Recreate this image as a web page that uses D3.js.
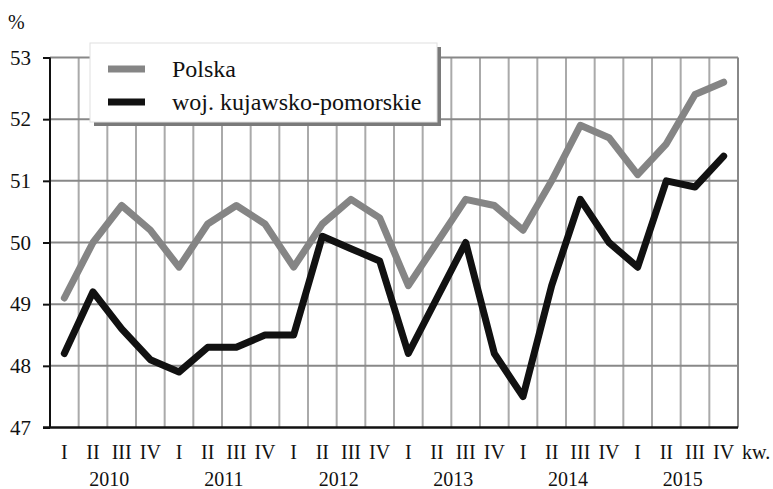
<!DOCTYPE html>
<html>
<head>
    <meta charset="utf-8">
    <script src="https://cdn.jsdelivr.net/npm/d3@7/dist/d3.min.js"></script>
    <style>
        body { margin: 0; background: #fff; }
        text { font-family: "Liberation Serif", "DejaVu Serif", serif !important; }
    </style>
</head>
<body>
    <div id="chart"></div>
    <script>
    //Data
    var years = ["2010", "2011", "2012", "2013", "2014", "2015"];
    var quarters = ["I", "II", "III", "IV"];
    var polska = [49.1, 50.0, 50.6, 50.2, 49.6, 50.3, 50.6, 50.3, 49.6, 50.3, 50.7, 50.4,
                  49.3, 50.0, 50.7, 50.6, 50.2, 51.0, 51.9, 51.7, 51.1, 51.6, 52.4, 52.6];
    var kujawsko = [48.2, 49.2, 48.6, 48.1, 47.9, 48.3, 48.3, 48.5, 48.5, 50.1, 49.9, 49.7,
                    48.2, 49.1, 50.0, 48.2, 47.5, 49.3, 50.7, 50.0, 49.6, 51.0, 50.9, 51.4];
    var yTicks = [47, 48, 49, 50, 51, 52, 53];
    var seriesNames = ["Polska", "woj. kujawsko-pomorskie"];

    var width = 773;
    var height = 489;
    var plotLeft = 50, plotRight = 738, plotTop = 57.5, plotBottom = 427.5;
    var serif = "Liberation Serif";

    //Build the period keys (year + quarter)
    var periods = [];
    years.forEach(function(yr) {
        quarters.forEach(function(q) { periods.push(yr + "-" + q); });
    });

    var svg = d3.select("#chart").append("svg")
        .attr("width", width)
        .attr("height", height)
        .attr("font-family", serif);

    var x = d3.scaleBand().domain(periods).range([plotLeft, plotRight]).padding(0);
    var y = d3.scaleLinear().domain([47, 53]).range([plotBottom, plotTop]);

    //Vertical grid lines on quarter boundaries
    svg.append("g").selectAll("line")
        .data(periods.slice(1))
        .enter().append("line")
        .attr("x1", function(d) { return x(d); })
        .attr("x2", function(d) { return x(d); })
        .attr("y1", plotTop)
        .attr("y2", plotBottom)
        .attr("stroke", "#aaa")
        .attr("stroke-width", 2);

    //Horizontal grid lines
    svg.append("g").selectAll("line")
        .data(yTicks.slice(1))
        .enter().append("line")
        .attr("x1", plotLeft)
        .attr("x2", plotRight)
        .attr("y1", function(d) { return y(d); })
        .attr("y2", function(d) { return y(d); })
        .attr("stroke", "#888")
        .attr("stroke-width", 2);

    //Right border
    svg.append("line")
        .attr("x1", plotRight).attr("x2", plotRight)
        .attr("y1", plotTop).attr("y2", plotBottom)
        .attr("stroke", "#888")
        .attr("stroke-width", 2);

    //Y axis
    var yAxis = svg.append("g")
        .attr("transform", "translate(" + plotLeft + ",0)")
        .call(d3.axisLeft(y).tickValues(yTicks).tickSize(7).tickPadding(12).tickFormat(d3.format("d")));
    yAxis.attr("font-family", serif).attr("font-size", 21);
    yAxis.select(".domain").remove();
    yAxis.selectAll(".tick line").attr("stroke", "#111").attr("stroke-width", 2);
    yAxis.selectAll(".tick text").attr("fill", "#111");

    svg.append("line")
        .attr("x1", plotLeft).attr("x2", plotLeft)
        .attr("y1", plotTop).attr("y2", plotBottom)
        .attr("stroke", "#111")
        .attr("stroke-width", 2);
    svg.append("line")
        .attr("x1", plotLeft - 7).attr("x2", plotRight)
        .attr("y1", plotBottom).attr("y2", plotBottom)
        .attr("stroke", "#111")
        .attr("stroke-width", 2.5);

    //Quarter labels
    var xAxis = svg.append("g")
        .attr("transform", "translate(0," + plotBottom + ")")
        .call(d3.axisBottom(x).tickSize(0).tickPadding(0).tickFormat(function(d) { return d.split("-")[1]; }));
    xAxis.attr("font-family", serif).attr("font-size", 20);
    xAxis.select(".domain").remove();
    xAxis.selectAll(".tick text")
        .attr("y", 31)
        .attr("dy", 0)
        .attr("fill", "#111");

    svg.append("text")
        .attr("x", plotRight + 4)
        .attr("y", plotBottom + 31)
        .attr("font-size", 20)
        .attr("fill", "#111")
        .text("kw.");

    //Year labels
    svg.append("g").selectAll("text")
        .data(years)
        .enter().append("text")
        .attr("x", function(d) { return (x(d + "-I") + x(d + "-IV") + x.bandwidth()) / 2 + 2; })
        .attr("y", plotBottom + 58)
        .attr("text-anchor", "middle")
        .attr("font-size", 20)
        .attr("fill", "#111")
        .text(function(d) { return d; });

    //Unit label
    svg.append("text")
        .attr("x", 8)
        .attr("y", 29)
        .attr("font-size", 20)
        .attr("fill", "#111")
        .text("%");

    //Lines
    var line = d3.line()
        .x(function(d, i) { return x(periods[i]) + x.bandwidth() / 2; })
        .y(function(d) { return y(d); });

    var series = [
        { values: polska, color: "#858585" },
        { values: kujawsko, color: "#111" }
    ];

    svg.append("g").selectAll("path")
        .data(series)
        .enter().append("path")
        .attr("d", function(d) { return line(d.values); })
        .attr("fill", "none")
        .attr("stroke", function(d) { return d.color; })
        .attr("stroke-width", 7)
        .attr("stroke-linejoin", "round")
        .attr("stroke-linecap", "round");

    //Legend box with a shadow
    var legend = svg.append("g");
    legend.append("rect")
        .attr("x", 94).attr("y", 47)
        .attr("width", 347).attr("height", 79)
        .attr("fill", "#7a7a7a");
    legend.append("rect")
        .attr("x", 90).attr("y", 43)
        .attr("width", 347).attr("height", 79)
        .attr("fill", "#fff")
        .attr("stroke", "#e0e0e0")
        .attr("stroke-width", 1);

    legend.selectAll(".item")
        .data(seriesNames)
        .enter().append("g")
        .attr("class", "item")
        .each(function(d, i) {
            var g = d3.select(this);
            var cy = 69 + i * 33;
            g.append("line")
                .attr("x1", 108).attr("x2", 145)
                .attr("y1", cy).attr("y2", cy)
                .attr("stroke", series[i].color)
                .attr("stroke-width", 7);
            g.append("text")
                .attr("x", 172)
                .attr("y", cy + 8)
                .attr("font-size", 24)
                .attr("fill", "#111")
                .text(d);
        });
    </script>
</body>
</html>
